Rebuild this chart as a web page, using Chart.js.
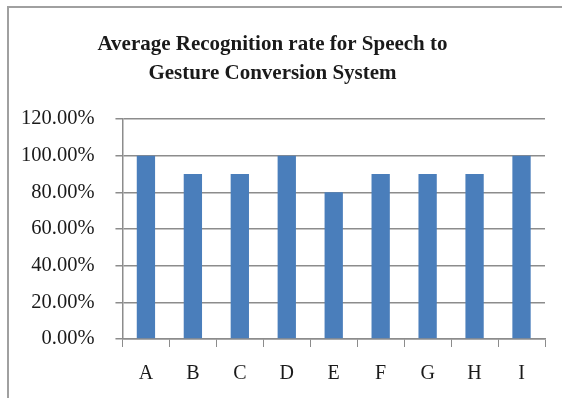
<!DOCTYPE html>
<html>
<head>
<meta charset="utf-8">
<script src="https://cdn.jsdelivr.net/npm/chart.js@4.4.1/dist/chart.umd.min.js"></script>
<style>
  html, body { margin: 0; padding: 0; background: #fff; }
  #wrap { position: relative; width: 562px; height: 398px; overflow: hidden; }
  #frame {
    position: absolute; left: 7px; top: 6px; right: -4px; bottom: -4px;
    border-left: 2px solid #a0a0a0; border-top: 2px solid #a0a0a0;
    pointer-events: none;
  }
  canvas { position: absolute; left: 0; top: 0; }
</style>
</head>
<body>
<div id="wrap">
  <canvas id="recChart" width="562" height="401"></canvas>
  <div id="frame"></div>
</div>
<script>
// ===== DATA =====
const categories = ["A", "B", "C", "D", "E", "F", "G", "H", "I"];
const recognitionRate = [100, 90, 90, 100, 80, 90, 90, 90, 100];
const yTicks = [0, 20, 40, 60, 80, 100, 120];

const serif = "'Liberation Serif', 'Times New Roman', serif";

function formatPercent(value) {
  return value.toFixed(2) + "%";
}

// ===== CHART =====
function initRecognitionChart() {
  const ctx = document.getElementById("recChart").getContext("2d");
  new Chart(ctx, {
    type: "bar",
    data: {
      labels: categories,
      datasets: [
        {
          label: "Recognition rate",
          data: recognitionRate,
          backgroundColor: "#4a7ebb",
          borderWidth: 0,
          categoryPercentage: 1.0,
          barPercentage: 0.39,
        },
      ],
    },
    options: {
      responsive: false,
      animation: false,
      layout: { padding: { left: 0, right: 17, top: 30, bottom: 0 } },
      plugins: {
        legend: { display: false },
        tooltip: { enabled: false },
        title: {
          display: true,
          text: ["Average Recognition rate for Speech to", "Gesture Conversion System"],
          color: "#1a1a1a",
          font: { family: serif, size: 21, weight: "bold", lineHeight: 1.38 },
          padding: { top: 0, bottom: 31 },
        },
      },
      scales: {
        x: {
          grid: {
            offset: true,
            drawOnChartArea: false,
            drawTicks: true,
            tickLength: 8,
            color: "#8c8c8c",
          },
          border: { color: "#8c8c8c", width: 1.5 },
          ticks: {
            color: "#1a1a1a",
            padding: 15,
            font: { family: serif, size: 20 },
          },
        },
        y: {
          min: 0,
          max: 120,
          afterBuildTicks: function (axis) {
            axis.ticks = yTicks.map((v) => ({ value: v }));
          },
          grid: {
            color: "#8c8c8c",
            lineWidth: 1.5,
            tickLength: 7,
          },
          border: { color: "#8c8c8c", width: 1.5 },
          ticks: {
            color: "#1a1a1a",
            padding: 21,
            font: { family: serif, size: 20.5 },
            callback: function (value) {
              return formatPercent(value);
            },
          },
        },
      },
    },
  });
}

document.addEventListener("DOMContentLoaded", function () {
  if (typeof Chart !== "undefined") {
    initRecognitionChart();
  }
});
</script>
</body>
</html>
